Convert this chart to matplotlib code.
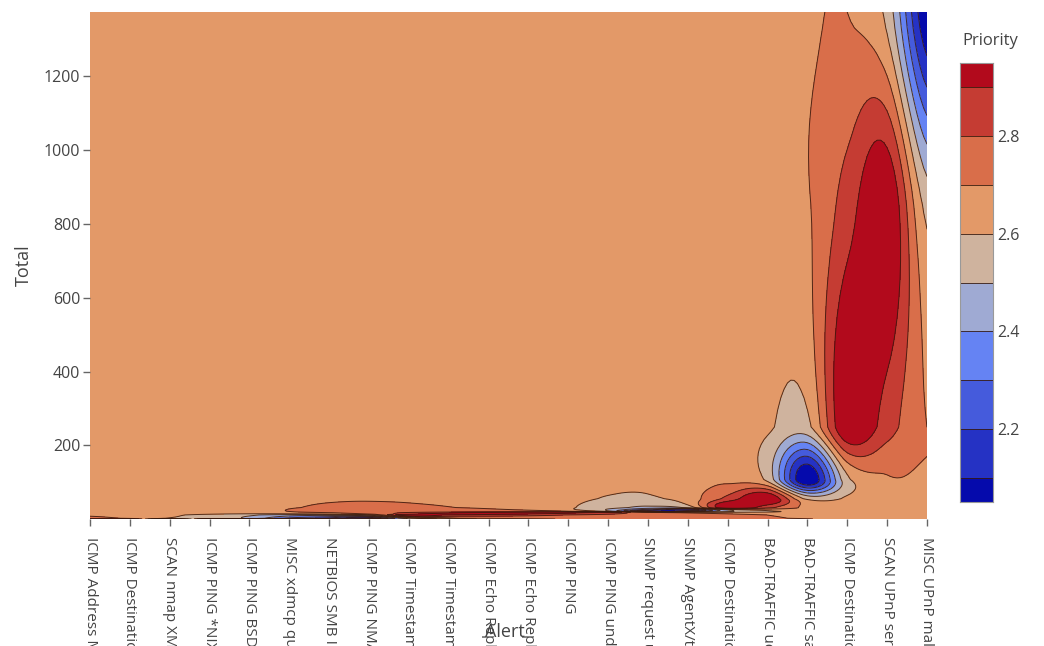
import numpy as np
import matplotlib
matplotlib.use("Agg")
import matplotlib.pyplot as plt

plt.rcParams['font.family'] = ['Open Sans', 'DejaVu Sans']

alerts = [
    "ICMP Address Mask Request",
    "ICMP Destination Unreachable Port Unreachable",
    "SCAN nmap XMAS",
    "ICMP PING *NIX",
    "ICMP PING BSDtype",
    "MISC xdmcp query",
    "NETBIOS SMB IPC$ unicode share access",
    "ICMP PING NMAP",
    "ICMP Timestamp Reply",
    "ICMP Timestamp Request",
    "ICMP Echo Reply",
    "ICMP Echo Reply undefined code",
    "ICMP PING",
    "ICMP PING undefined code",
    "SNMP request udp",
    "SNMP AgentX/tcp request",
    "ICMP Destination Unreachable Communication Administratively Prohibited",
    "BAD-TRAFFIC udp port 0 traffic",
    "BAD-TRAFFIC same SRC/DST",
    "ICMP Destination Unreachable Host Unreachable",
    "SCAN UPnP service discover attempt",
    "MISC UPnP malformed advertisement",
]
totals = [1, 1, 1, 1, 1, 2, 2, 3, 12, 14, 16, 18, 19, 20, 22, 26, 32, 56, 108, 250, 850, 1373]
priorities = [3, 3, 2, 3, 3, 2, 2, 2, 3, 3, 3, 3, 3, 3, 2, 2, 3, 3, 2, 3, 3, 2]

# plotly 'RdBu' colorscale
cs_stops = [0, 0.35, 0.5, 0.6, 0.7, 1.0]
cs_cols = [(5, 10, 172), (106, 137, 247), (190, 190, 190), (220, 170, 132),
           (230, 145, 90), (178, 10, 28)]


def cscale(f):
    for k in range(len(cs_stops) - 1):
        if cs_stops[k] <= f <= cs_stops[k + 1]:
            t = (f - cs_stops[k]) / (cs_stops[k + 1] - cs_stops[k])
            c = [cs_cols[k][m] + t * (cs_cols[k + 1][m] - cs_cols[k][m]) for m in range(3)]
            return tuple(v / 255 for v in c)
    return tuple(v / 255 for v in cs_cols[-1])


# ---- grid from 1D x/y/z, gaps filled the way plotly contour does ----
ys = sorted(set(totals))
ny, nx = len(ys), len(alerts)
z = [[None] * nx for _ in range(ny)]
for j, (t, p) in enumerate(zip(totals, priorities)):
    z[ys.index(t)][j] = float(p)


def find_empties(z):
    ny, nx = len(z), len(z[0])

    def get(i, j):
        if 0 <= i < ny and 0 <= j < nx:
            return z[i][j]
        return None
    empties, nh, nonb = [], {}, []
    for i in range(ny):
        for j in range(nx):
            if z[i][j] is None:
                c = sum(get(a, b) is not None for a, b in ((i, j - 1), (i, j + 1), (i - 1, j), (i + 1, j)))
                if c:
                    if i == 0: c += 1
                    if j == 0: c += 1
                    if i == ny - 1: c += 1
                    if j == nx - 1: c += 1
                    if c < 4:
                        nh[(i, j)] = c
                    empties.append([i, j, c])
                else:
                    nonb.append((i, j))
    while nonb:
        new = {}
        for p in range(len(nonb) - 1, -1, -1):
            i, j = nonb[p]
            c = (nh.get((i - 1, j), 0) + nh.get((i + 1, j), 0) +
                 nh.get((i, j - 1), 0) + nh.get((i, j + 1), 0)) / 20
            if c:
                new[(i, j)] = c
                nonb.pop(p)
        if not new:
            break
        for k, v in new.items():
            nh[k] = v
            empties.append([k[0], k[1], v])
    empties.sort(key=lambda e: -e[2])
    return empties


def iterate(z, empties, overshoot=None):
    ny, nx = len(z), len(z[0])
    maxfc = 0
    for (i, j, _) in empties:
        init = z[i][j]
        s, cnt, mn, mx = 0.0, 0, None, None
        for di, dj in ((-1, 0), (1, 0), (0, -1), (0, 1)):
            ii, jj = i + di, j + dj
            if not (0 <= ii < ny and 0 <= jj < nx):
                continue
            v = z[ii][jj]
            if v is not None:
                if s == 0:
                    mn = mx = v
                else:
                    mn, mx = min(mn, v), max(mx, v)
                cnt += 1
                s += v
        z[i][j] = s / cnt
        if overshoot is None:
            if cnt < 4:
                maxfc = 1
        else:
            z[i][j] = (1 + overshoot) * z[i][j] - overshoot * init
            if mx > mn:
                maxfc = max(maxfc, abs(z[i][j] - init) / (mx - mn))
    return maxfc


emp = find_empties(z)
iterate(z, emp)
k = 0
while k < len(emp) and emp[k][2] >= 4:
    k += 1
emp2 = emp[k:]
mfc = 1.0
for it in range(100):
    if mfc <= 0.01:
        break
    mfc = iterate(z, emp2, 0.5 - 0.25 * min(1, mfc * 0.5))
Z = np.array(z, dtype=float)


def cr_resample(a, factor, axis):
    a = np.moveaxis(a, axis, 0)
    n = a.shape[0]
    t = np.linspace(0, n - 1, (n - 1) * factor + 1)
    i1 = np.clip(np.floor(t).astype(int), 0, n - 2)
    u = (t - i1)[:, None]
    i0 = np.clip(i1 - 1, 0, n - 1)
    i2 = np.clip(i1 + 1, 0, n - 1)
    i3 = np.clip(i1 + 2, 0, n - 1)
    p0, p1, p2, p3 = a[i0], a[i1], a[i2], a[i3]
    out = 0.5 * ((2 * p1) + (-p0 + p2) * u + (2 * p0 - 5 * p1 + 4 * p2 - p3) * u ** 2 +
                 (-p0 + 3 * p1 - 3 * p2 + p3) * u ** 3)
    return np.moveaxis(out, 0, axis), t


F = 12
Zf, tx = cr_resample(Z, F, 1)
Zf, ty = cr_resample(Zf, F, 0)
Xf = tx
Yf = np.interp(ty, np.arange(ny), ys)

# ---- figure ----
W, H = 1044, 646
fig = plt.figure(figsize=(W / 100, H / 100), dpi=100)
ax = fig.add_axes([90 / W, 1 - 519 / H, (927 - 90) / W, (519 - 12) / H])

inner = [2.1 + 0.1 * k for k in range(9)]
levels = [-10] + inner + [10]
colors = [cscale(k / 9) for k in range(10)]
linec = (0.22, 0.1, 0.05)
ax.contourf(Xf, Yf, Zf, levels=levels, colors=colors)
ax.contour(Xf, Yf, Zf, levels=inner, colors=[linec], linewidths=0.7, alpha=0.85)

ax.set_xlim(0, nx - 1)
ax.set_ylim(ys[0], ys[-1])
for s in ax.spines.values():
    s.set_visible(False)
grey = '#444444'
ax.set_xticks(range(nx))
ax.set_xticklabels(alerts, rotation=-90, fontsize=11, color=grey, va='top', ha='center')
ax.set_yticks([200, 400, 600, 800, 1000, 1200])
ax.set_yticklabels(['200', '400', '600', '800', '1000', '1200'], fontsize=11.5, color=grey)
ax.tick_params(axis='both', length=5, width=1, color='#666666', pad=2)
ax.tick_params(axis='x', pad=8)
ax.set_ylabel('Total', fontsize=13, color=grey, labelpad=8)
fig.text(505 / W, 1 - 632 / H, 'Alert', fontsize=13, color=grey, ha='center', va='center')

# ---- colorbar ----
cax = fig.add_axes([960 / W, 1 - 502 / H, 33 / W, (502 - 63) / H])
bounds = [2.05] + inner + [2.95]
for k in range(10):
    cax.axhspan(bounds[k], bounds[k + 1], color=colors[k], lw=0)
for v in inner:
    cax.axhline(v, color=linec, lw=0.7, alpha=0.85)
cax.set_ylim(2.05, 2.95)
cax.set_xlim(0, 1)
cax.set_xticks([])
cax.yaxis.tick_right()
cax.set_yticks([2.2, 2.4, 2.6, 2.8])
cax.set_yticklabels(['2.2', '2.4', '2.6', '2.8'], fontsize=11.5, color=grey)
cax.tick_params(axis='y', length=0, pad=3)
for s in cax.spines.values():
    s.set_color('#999999')
    s.set_linewidth(0.8)
fig.text(990 / W, 1 - 41 / H, 'Priority', fontsize=12, color=grey, ha='center', va='center')

fig.savefig('out.png', dpi=100)
